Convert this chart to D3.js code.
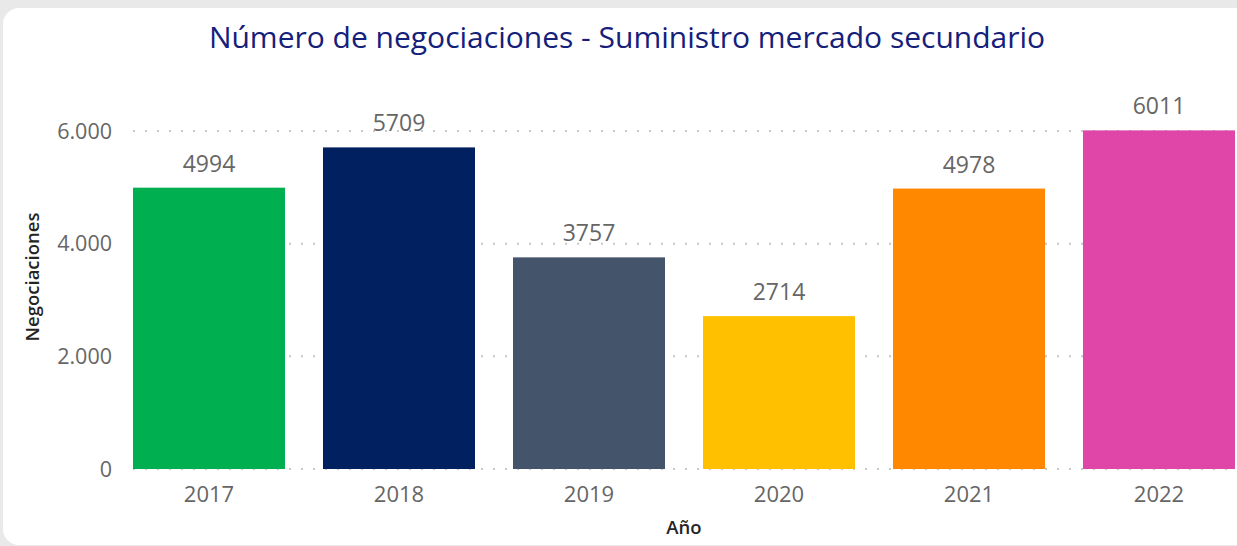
<!DOCTYPE html>
<html>
<head>
<meta charset="utf-8">
<script src="https://cdn.jsdelivr.net/npm/d3@7"></script>
<style>
  html, body { margin: 0; padding: 0; background: #e9e9e9; }
  svg { display: block; font-family: "Open Sans", "Noto Sans", sans-serif; }
</style>
</head>
<body>
<div id="root"></div>
<script>
// data
var years = ["2017", "2018", "2019", "2020", "2021", "2022"];
var negociaciones = [4994, 5709, 3757, 2714, 4978, 6011];
var barColors = ["#00AF50", "#002060", "#44546A", "#FFC000", "#FF8800", "#E045A8"];
var yTicks = [0, 2000, 4000, 6000];

var W = 1237, H = 546;

var svg = d3.select("#root")
  .append("svg")
  .attr("width", W)
  .attr("height", H);

// background + card
svg.append("rect").attr("width", W).attr("height", H).attr("fill", "#e9e9e9");
svg.append("rect")
  .attr("x", 3).attr("y", 8)
  .attr("width", W + 20).attr("height", H - 9)
  .attr("rx", 16).attr("ry", 16)
  .attr("fill", "#ffffff");

// scales
var x = d3.scaleBand()
  .domain(years)
  .range([114, 1254])
  .paddingInner(0.2)
  .paddingOuter(0.1);

var y = d3.scaleLinear()
  .domain([0, 6000])
  .range([469, 131]);

var fmt = function (d) { return d3.format(",")(d).replace(/,/g, "."); };

// gridlines
svg.append("g")
  .selectAll("line")
  .data(yTicks)
  .enter()
  .append("line")
    .attr("x1", 133)
    .attr("x2", W)
    .attr("y1", function (d) { return y(d); })
    .attr("y2", function (d) { return y(d); })
    .attr("stroke", "#c8c8c8")
    .attr("stroke-width", 2)
    .attr("stroke-dasharray", "2,10");

// y tick labels
svg.append("g")
  .selectAll("text")
  .data(yTicks)
  .enter()
  .append("text")
    .attr("x", 112)
    .attr("y", function (d) { return y(d); })
    .attr("dy", "0.35em")
    .attr("text-anchor", "end")
    .attr("fill", "#666666")
    .style("font-size", "21.5px")
    .text(fmt);

// bars
svg.append("g")
  .selectAll("rect")
  .data(years)
  .enter()
  .append("rect")
    .attr("x", function (d) { return x(d); })
    .attr("y", function (d, i) { return y(negociaciones[i]); })
    .attr("width", x.bandwidth())
    .attr("height", function (d, i) { return y(0) - y(negociaciones[i]); })
    .attr("fill", function (d, i) { return barColors[i]; });

// value labels
svg.append("g")
  .selectAll("text")
  .data(years)
  .enter()
  .append("text")
    .attr("x", function (d) { return x(d) + x.bandwidth() / 2; })
    .attr("y", function (d, i) { return y(negociaciones[i]) - 16; })
    .attr("text-anchor", "middle")
    .attr("fill", "#666666")
    .style("font-size", "23px")
    .text(function (d, i) { return negociaciones[i]; });

// x tick labels
svg.append("g")
  .selectAll("text")
  .data(years)
  .enter()
  .append("text")
    .attr("x", function (d) { return x(d) + x.bandwidth() / 2; })
    .attr("y", 502)
    .attr("text-anchor", "middle")
    .attr("fill", "#666666")
    .style("font-size", "22px")
    .text(function (d) { return d; });

// axis titles
svg.append("text")
  .attr("x", 684)
  .attr("y", 534)
  .attr("text-anchor", "middle")
  .attr("fill", "#252423")
  .style("font-size", "18.5px")
  .style("font-weight", "600")
  .text("Año");

svg.append("text")
  .attr("transform", "translate(39,277) rotate(-90)")
  .attr("text-anchor", "middle")
  .attr("fill", "#252423")
  .style("font-size", "18.5px")
  .style("font-weight", "600")
  .text("Negociaciones");

// title
svg.append("text")
  .attr("x", 627)
  .attr("y", 48)
  .attr("text-anchor", "middle")
  .attr("fill", "#14207a")
  .style("font-size", "30px")
  .text("Número de negociaciones - Suministro mercado secundario");
</script>
</body>
</html>
